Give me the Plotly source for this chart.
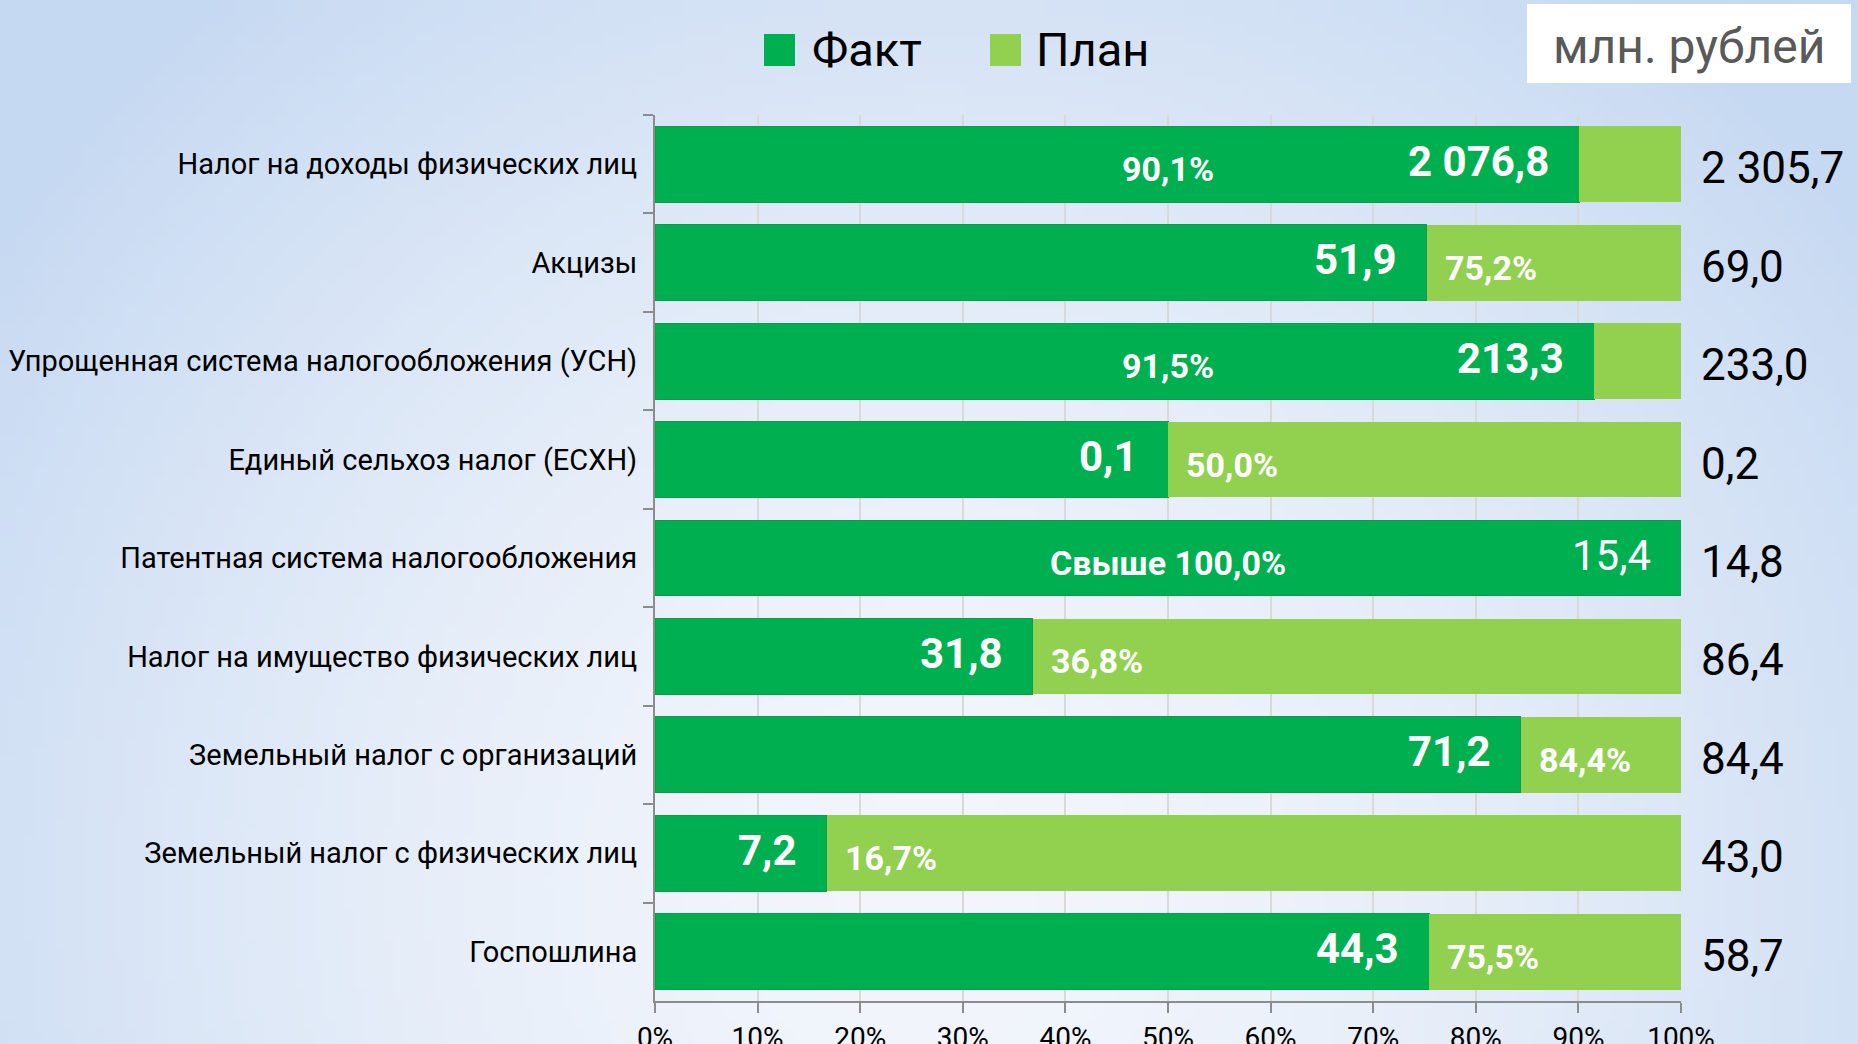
import base64, struct, zlib
import numpy as np
import plotly.graph_objects as go

# ---------------- data ----------------
categories = [
    "Налог на доходы физических лиц",
    "Акцизы",
    "Упрощенная система налогообложения (УСН)",
    "Единый сельхоз налог (ЕСХН)",
    "Патентная система налогообложения",
    "Налог на имущество физических лиц",
    "Земельный налог с организаций",
    "Земельный налог с физических лиц",
    "Госпошлина",
]
fact_values = [2076.8, 51.9, 213.3, 0.1, 15.4, 31.8, 71.2, 7.2, 44.3]
plan_values = [2305.7, 69.0, 233.0, 0.2, 14.8, 86.4, 84.4, 43.0, 58.7]
pct_labels = ["90,1%", "75,2%", "91,5%", "50,0%", "Свыше 100,0%",
              "36,8%", "84,4%", "16,7%", "75,5%"]
x_ticks = [0, 10, 20, 30, 40, 50, 60, 70, 80, 90, 100]
x_tick_text = [f"{t}%" for t in x_ticks]
legend_names = ["Факт", "План"]
unit_label = "млн. рублей"

# shares of plan (stacked to 100%)
fact_share = [min(f / p * 100, 100.0) for f, p in zip(fact_values, plan_values)]
rest_share = [100.0 - s for s in fact_share]

def fmt(v):
    return f"{v:,.1f}".replace(",", " ").replace(".", ",")

W, H = 1858, 1044
FONT = "Roboto"
DARK = "#00B050"
LIGHT = "#92D050"

# ---------------- background gradient (decorative) ----------------
gw, gh = 186, 104
yy, xx = np.mgrid[0:gh, 0:gw]
cx, cy = 930 / W * gw, 880 / H * gh
r = np.sqrt(((xx - cx) * 1.0) ** 2 + ((yy - cy) * 1.0) ** 2) / (1150 / W * gw)
t = np.clip(r, 0, 1) ** 1.6
inner = np.array([243, 246, 252])
outer = np.array([198, 217, 242])
img = (inner[None, None, :] * (1 - t[..., None]) + outer[None, None, :] * t[..., None]).astype(np.uint8)

def png_bytes(arr):
    h, w, _ = arr.shape
    raw = b"".join(b"\x00" + arr[i].tobytes() for i in range(h))
    def chunk(tag, data):
        c = struct.pack(">I", len(data)) + tag + data
        return c + struct.pack(">I", zlib.crc32(tag + data) & 0xffffffff)
    return (b"\x89PNG\r\n\x1a\n" + chunk(b"IHDR", struct.pack(">IIBBBBB", w, h, 8, 2, 0, 0, 0))
            + chunk(b"IDAT", zlib.compress(raw, 9)) + chunk(b"IEND", b""))

bg_uri = "data:image/png;base64," + base64.b64encode(png_bytes(img)).decode()

# ---------------- figure ----------------
fig = go.Figure()
fig.add_trace(go.Bar(
    y=categories, x=fact_share, orientation="h", name=legend_names[0],
    marker=dict(color=DARK, line=dict(color="#0E9B4C", width=1)),
    hoverinfo="skip",
))
fig.add_trace(go.Bar(
    y=categories, x=rest_share, orientation="h", name=legend_names[1],
    marker=dict(color=LIGHT, line=dict(width=0)),
    hoverinfo="skip",
))

annotations = []
for cat, fv, pv, fs, pl in zip(categories, fact_values, plan_values, fact_share, pct_labels):
    over = fv > pv
    # fact value inside dark bar end
    annotations.append(dict(
        x=fs, y=cat, xref="x", yref="y", text=fmt(fv), showarrow=False,
        xanchor="right", xshift=-28, yshift=3,
        font=dict(family=FONT, size=42, color="white", weight="normal" if over else "bold"),
    ))
    # percentage label
    if fs >= 88:
        annotations.append(dict(
            x=50, y=cat, xref="x", yref="y", text=pl, showarrow=False,
            xanchor="center", yshift=-5,
            font=dict(family=FONT, size=34, color="white", weight="bold"),
        ))
    else:
        annotations.append(dict(
            x=fs, y=cat, xref="x", yref="y", text=pl, showarrow=False,
            xanchor="left", xshift=16, yshift=-5,
            font=dict(family=FONT, size=34, color="white", weight="bold"),
        ))
    # plan value at the right
    annotations.append(dict(
        x=100, y=cat, xref="x", yref="y", text=fmt(pv), showarrow=False,
        xanchor="left", xshift=18, yshift=-4,
        font=dict(family=FONT, size=44, color="black"),
    ))

def px_x(v):
    return v / W
def px_y(v):
    return 1 - v / H

# custom legend
shapes = []
leg = [(764, 810, DARK, legend_names[0]), (990, 1034, LIGHT, legend_names[1])]
for sx, tx, col, name in leg:
    shapes.append(dict(type="rect", xref="paper", yref="paper",
                       x0=px_x(sx), x1=px_x(sx + 31), y0=px_y(66), y1=px_y(34),
                       fillcolor=col, line=dict(width=0)))
    annotations.append(dict(x=px_x(tx), y=px_y(50), xref="paper", yref="paper",
                            text=name, showarrow=False, xanchor="left", yanchor="middle",
                            font=dict(family=FONT, size=47, color="black")))
# units box
shapes.append(dict(type="rect", xref="paper", yref="paper",
                   x0=px_x(1527), x1=px_x(1851), y0=px_y(83), y1=px_y(4),
                   fillcolor="white", line=dict(width=0)))
annotations.append(dict(x=px_x(1689), y=px_y(46), xref="paper", yref="paper",
                        text=unit_label, showarrow=False, xanchor="center", yanchor="middle",
                        font=dict(family=FONT, size=48, color="#595959")))

fig.update_layout(
    width=W, height=H,
    margin=dict(l=0, r=0, t=0, b=0, autoexpand=False),
    paper_bgcolor="rgba(0,0,0,0)", plot_bgcolor="rgba(0,0,0,0)",
    barmode="stack", bargap=0.23,
    showlegend=False,
    font=dict(family=FONT, color="black"),
    images=[dict(source=bg_uri, xref="paper", yref="paper", x=0, y=1,
                 sizex=1, sizey=1, xanchor="left", yanchor="top",
                 sizing="stretch", layer="below")],
    xaxis=dict(domain=[655 / W, 1681 / W], range=[0, 100], automargin=False,
               tickvals=x_ticks, ticktext=x_tick_text,
               showgrid=True, gridcolor="#D9D9D9", gridwidth=1.5,
               zeroline=False, showline=True, linecolor="#8C8C8C", linewidth=2,
               ticks="outside", ticklen=10, tickcolor="#8C8C8C", tickwidth=1.5,
               tickfont=dict(family=FONT, size=28, color="black")),
    yaxis=dict(domain=[1 - 1001 / H, 1 - 115 / H], automargin=False,
               categoryorder="array", categoryarray=categories[::-1],
               showline=True, linecolor="#8C8C8C", linewidth=2,
               ticks="outside", tickson="boundaries", ticklen=10,
               tickcolor="#8C8C8C", tickwidth=1.5, showgrid=False,
               tickfont=dict(family=FONT, size=29, color="black"),
               ticklabelstandoff=10),
    annotations=annotations, shapes=shapes,
)

fig.write_html("out.html")
